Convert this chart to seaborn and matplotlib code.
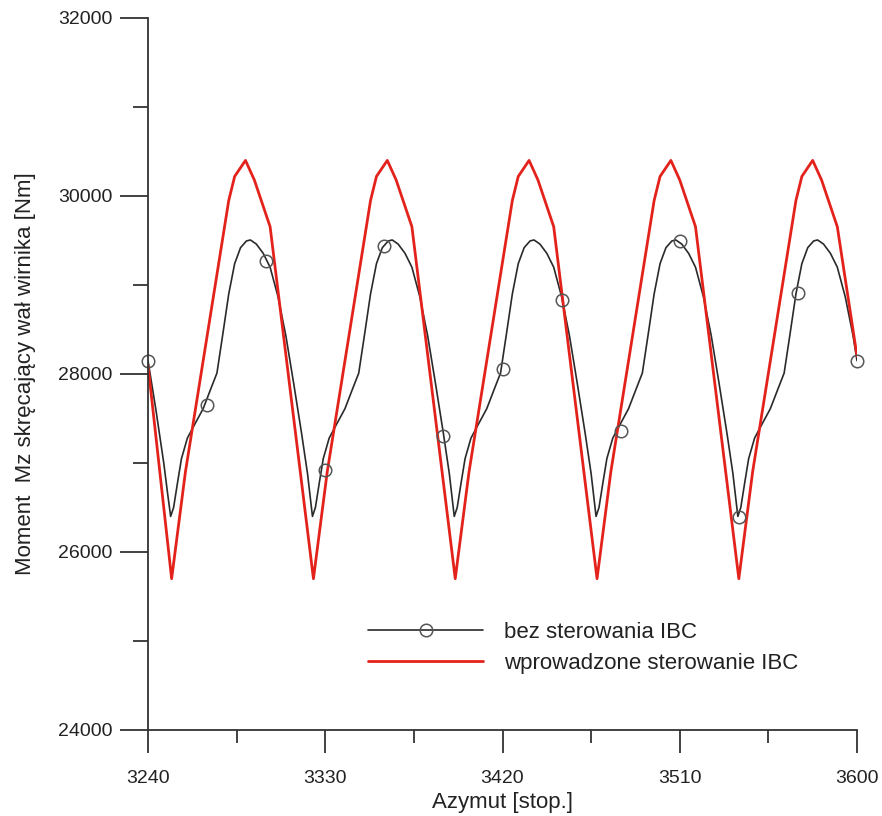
import matplotlib
matplotlib.use("Agg")
import matplotlib.pyplot as plt
import seaborn as sns
import pandas as pd
from matplotlib.lines import Line2D
from matplotlib.ticker import MultipleLocator

# ---------------- data ----------------
red_x = [3240, 3252, 3259, 3281, 3284, 3289.5, 3294, 3302,
         3324, 3331, 3353, 3356, 3361.5, 3366, 3374,
         3396, 3403, 3425, 3428, 3433.5, 3438, 3446,
         3468, 3475, 3497, 3500, 3505.5, 3510, 3518,
         3540, 3547, 3569, 3572, 3577.5, 3582, 3590, 3600]
red_y = [28100, 25700, 26900, 29950, 30220, 30400, 30180, 29655,
         25700, 26900, 29950, 30220, 30400, 30180, 29655,
         25700, 26900, 29950, 30220, 30400, 30180, 29655,
         25700, 26900, 29950, 30220, 30400, 30180, 29655,
         25700, 26900, 29950, 30220, 30400, 30180, 29655, 28200]

black_x = [3240, 3244, 3248, 3250,
           3251.5, 3253, 3255, 3257, 3260, 3264, 3268, 3272, 3275, 3278, 3281, 3284,
           3287, 3290, 3292, 3295, 3298.5, 3302, 3306, 3310, 3314, 3318, 3321,
           3323.5, 3325, 3327, 3329, 3332, 3336, 3340, 3344, 3347, 3350, 3353, 3356,
           3359, 3362, 3364, 3367, 3370.5, 3374, 3378, 3382, 3386, 3390, 3393,
           3395.5, 3397, 3399, 3401, 3404, 3408, 3412, 3416, 3419, 3422, 3425, 3428,
           3431, 3434, 3436, 3439, 3442.5, 3446, 3450, 3454, 3458, 3462, 3465,
           3467.5, 3469, 3471, 3473, 3476, 3480, 3484, 3488, 3491, 3494, 3497, 3500,
           3503, 3506, 3508, 3511, 3514.5, 3518, 3522, 3526, 3530, 3534, 3537,
           3539.5, 3541, 3543, 3545, 3548, 3552, 3556, 3560, 3563, 3566, 3569, 3572,
           3575, 3578, 3580, 3583, 3586.5, 3590, 3594, 3598, 3600]
black_y = [28150, 27600, 27000, 26650,
           26400, 26500, 26780, 27050, 27280, 27446, 27610, 27840, 28010, 28450, 28900, 29240,
           29420, 29495, 29506, 29460, 29356, 29200, 28870, 28430, 27890, 27330, 26880,
           26400, 26500, 26780, 27050, 27280, 27446, 27610, 27840, 28010, 28450, 28900, 29240,
           29420, 29495, 29506, 29460, 29356, 29200, 28870, 28430, 27890, 27330, 26880,
           26400, 26500, 26780, 27050, 27280, 27446, 27610, 27840, 28010, 28450, 28900, 29240,
           29420, 29495, 29506, 29460, 29356, 29200, 28870, 28430, 27890, 27330, 26880,
           26400, 26500, 26780, 27050, 27280, 27446, 27610, 27840, 28010, 28450, 28900, 29240,
           29420, 29495, 29506, 29460, 29356, 29200, 28870, 28430, 27890, 27330, 26880,
           26400, 26500, 26780, 27050, 27280, 27446, 27610, 27840, 28010, 28450, 28900, 29240,
           29420, 29495, 29506, 29460, 29356, 29200, 28870, 28430, 28150]

marker_x = [3240, 3270, 3300, 3330, 3360, 3390, 3420, 3450, 3480, 3510, 3540, 3570, 3600]
marker_y = [28150, 27650, 29270, 26920, 29440, 27300, 28060, 28830, 27360, 29500, 26390, 28910, 28150]

x_ticks = [3240, 3330, 3420, 3510, 3600]
y_ticks = [24000, 26000, 28000, 30000, 32000]

label_black = "bez sterowania IBC"
label_red = "wprowadzone sterowanie IBC"
x_label = "Azymut [stop.]"
y_label = "Moment  Mz skręcający wał wirnika [Nm]"

# ---------------- styling ----------------
sns.set_theme(style="white")
plt.rcParams["font.family"] = ["Liberation Sans", "DejaVu Sans"]

AX_COL = "#333333"
RED = "#e3231b"
BLK = "#2a2a2a"
MRK = "#555555"

fig = plt.figure(figsize=(8.82, 8.16), dpi=100)
ax = fig.add_axes([148 / 882, 1 - 730 / 816, 709 / 882, 712 / 816])

df_black = pd.DataFrame({"x": black_x, "y": black_y})
df_red = pd.DataFrame({"x": red_x, "y": red_y})
df_mrk = pd.DataFrame({"x": marker_x, "y": marker_y})

sns.lineplot(data=df_black, x="x", y="y", sort=False, estimator=None,
             color=BLK, linewidth=1.2, ax=ax)
sns.lineplot(data=df_red, x="x", y="y", sort=False, estimator=None,
             color=RED, linewidth=2.0, ax=ax)
sns.lineplot(data=df_mrk, x="x", y="y", sort=False, estimator=None,
             marker="o", linestyle="", markersize=9, markerfacecolor="none",
             markeredgecolor=MRK, markeredgewidth=1.1, clip_on=False, ax=ax)

ax.set_xlim(3240, 3600)
ax.set_ylim(24000, 32000)
ax.set_xticks(x_ticks)
ax.set_yticks(y_ticks)
ax.xaxis.set_minor_locator(MultipleLocator(45))
ax.yaxis.set_minor_locator(MultipleLocator(1000))

for s in ["top", "right"]:
    ax.spines[s].set_visible(False)
for s in ["left", "bottom"]:
    ax.spines[s].set_color(AX_COL)
    ax.spines[s].set_linewidth(1.3)

ax.tick_params(axis="y", which="major", direction="out", length=20, width=1.3,
               color=AX_COL, labelsize=14, labelcolor="#222222", pad=5.5, left=True)
ax.tick_params(axis="y", which="minor", direction="out", length=10.5, width=1.3,
               color=AX_COL, left=True)
ax.tick_params(axis="x", which="major", direction="out", length=16.5, width=1.3,
               color=AX_COL, labelsize=14, labelcolor="#222222", pad=12.5, bottom=True)
ax.tick_params(axis="x", which="minor", direction="out", length=9, width=1.3,
               color=AX_COL, bottom=True)

ax.set_xlabel(x_label, fontsize=16, color="#222222", labelpad=3.5)
ax.set_ylabel(y_label, fontsize=16, color="#222222", labelpad=16)

handles = [
    Line2D([], [], color=BLK, linewidth=1.2, marker="o", markersize=9,
           markerfacecolor="none", markeredgecolor=MRK, markeredgewidth=1.1),
    Line2D([], [], color=RED, linewidth=2.0),
]
ax.legend(handles, [label_black, label_red], loc="upper left",
          bbox_to_anchor=(0.31, 0.152), frameon=False, fontsize=16,
          handlelength=5.2, handletextpad=0.95, labelspacing=0.45,
          numpoints=1, borderpad=0, borderaxespad=0, labelcolor="#222222")

fig.savefig("out.png", dpi=100)
